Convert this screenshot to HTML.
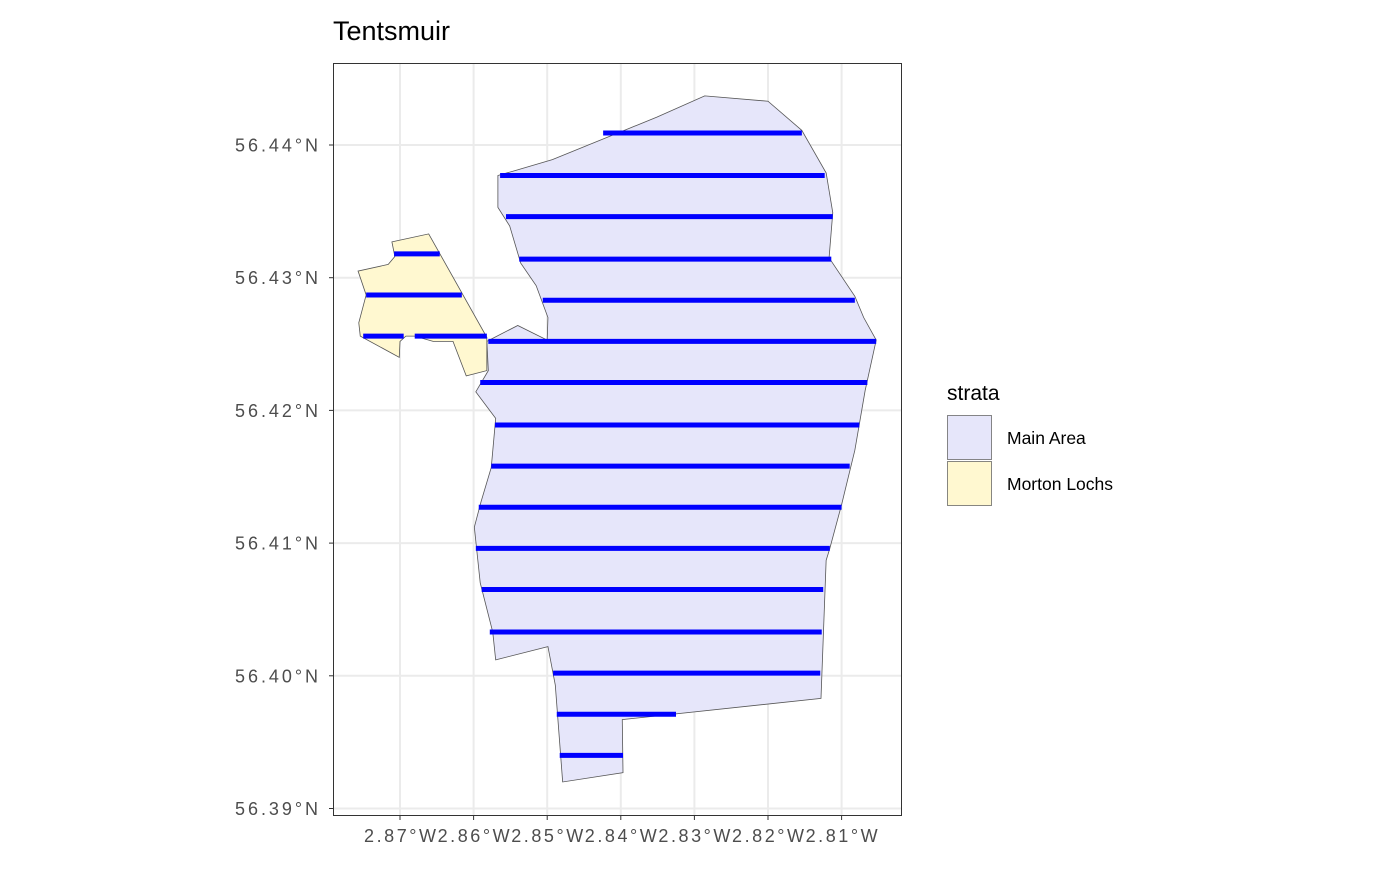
<!DOCTYPE html>
<html><head><meta charset="utf-8"><style>
body{margin:0;background:#fff;font-family:"Liberation Sans",Arial,sans-serif}
svg text{font-family:"Liberation Sans",Arial,sans-serif}
</style></head><body>
<svg id="c" width="1400" height="866" xmlns="http://www.w3.org/2000/svg">
<text x="333" y="40" font-size="27" fill="#000">Tentsmuir</text>
<rect x="333.5" y="63.5" width="568" height="752" fill="#fff"/>
<g id="grid"></g><g id="polys"></g><g id="lines"></g>
<rect x="333.5" y="63.5" width="568" height="752" fill="none" stroke="#333" stroke-width="1"/>
<g id="axes"></g>
<g>
<text x="947" y="400" font-size="21">strata</text>
<rect x="947.5" y="415.5" width="44" height="44" fill="#e6e6fa" stroke="#555" stroke-width="0.7"/>
<text x="1007" y="444" font-size="17.5">Main Area</text>
<rect x="947.5" y="461.5" width="44" height="44" fill="#fff8d0" stroke="#555" stroke-width="0.7"/>
<text x="1007" y="490" font-size="17.5">Morton Lochs</text>
</g>
</svg>
<script>
const lonTicks=[-2.87,-2.86,-2.85,-2.84,-2.83,-2.82,-2.81];
const lonLabels=["2.87°W","2.86°W","2.85°W","2.84°W","2.83°W","2.82°W","2.81°W"];
const latTicks=[56.44,56.43,56.42,56.41,56.40,56.39];
const latLabels=["56.44°N","56.43°N","56.42°N","56.41°N","56.40°N","56.39°N"];
const mainLon=[-2.8567,-2.8542,-2.8493,-2.8351,-2.8286,-2.8200,-2.8154,-2.8121,-2.8112,-2.8117,-2.8082,-2.8070,-2.8053,-2.8068,-2.8082,-2.8100,-2.8116,-2.8121,-2.8128,-2.8398,-2.8397,-2.8479,-2.8489,-2.8499,-2.8570,-2.8574,-2.8591,-2.8599,-2.8590,-2.8576,-2.8570,-2.8597,-2.8580,-2.8582,-2.8540,-2.8500,-2.8499,-2.8515,-2.8536,-2.8551,-2.8567];
const mainLat=[56.4377,56.4381,56.4389,56.4421,56.4437,56.4433,56.4411,56.4379,56.4349,56.4315,56.4286,56.4270,56.4253,56.4215,56.4170,56.4129,56.4096,56.4087,56.3983,56.3967,56.3927,56.3920,56.3993,56.4022,56.4012,56.4033,56.4070,56.4112,56.4131,56.4157,56.4194,56.4214,56.4230,56.4252,56.4264,56.4253,56.4270,56.4294,56.4311,56.4339,56.4353];
const mortonLon=[-2.8711,-2.8661,-2.8582,-2.8582,-2.8610,-2.8628,-2.8655,-2.8680,-2.8692,-2.8700,-2.8701,-2.8754,-2.8756,-2.8746,-2.8757,-2.8716,-2.8707];
const mortonLat=[56.4327,56.4333,56.4255,56.4230,56.4226,56.4252,56.4252,56.4256,56.4256,56.4252,56.4240,56.4256,56.4266,56.4287,56.4305,56.4310,56.4316];
const transLat=[56.4409,56.4377,56.4346,56.4314,56.4283,56.4252,56.4221,56.4189,56.4158,56.4127,56.4096,56.4065,56.4033,56.4002,56.3971,56.3940,56.4318,56.4287,56.4256,56.4256];
const transLon0=[-2.8424,-2.8564,-2.8556,-2.8538,-2.8506,-2.8580,-2.8591,-2.8571,-2.8576,-2.8593,-2.8597,-2.8589,-2.8578,-2.8492,-2.8487,-2.8483,-2.8708,-2.8746,-2.8750,-2.8680];
const transLon1=[-2.8154,-2.8123,-2.8112,-2.8114,-2.8082,-2.8053,-2.8065,-2.8076,-2.8089,-2.8100,-2.8116,-2.8125,-2.8127,-2.8129,-2.8325,-2.8397,-2.8646,-2.8616,-2.8695,-2.8582];
const X=lon=>400+(lon+2.87)*7360;
const Y=lat=>145+(56.44-lat)*13270;
const NS="http://www.w3.org/2000/svg";
function mk(tag,parent,attrs){const e=document.createElementNS(NS,tag);for(const k in attrs)e.setAttribute(k,attrs[k]);document.getElementById(parent).appendChild(e);return e;}
lonTicks.forEach((v,i)=>{
 const l=mk('line','grid',{x1:X(v),x2:X(v),y1:63.5,y2:815.5,stroke:'#ebebeb','stroke-width':2});
 
 
 const t=mk('line','axes',{x1:X(v),x2:X(v),y1:815.5,y2:820,stroke:'#333'});
 
 
 const tx=mk('text','axes',{x:X(v),y:842,'font-size':18,fill:'#4d4d4d','text-anchor':'middle',textLength:72,lengthAdjust:'spacing'});
 tx.textContent=lonLabels[i];
 
 
});
latTicks.forEach((v,i)=>{
 const l=mk('line','grid',{x1:333.5,x2:901.5,y1:Y(v),y2:Y(v),stroke:'#ebebeb','stroke-width':2});
 
 
 const t=mk('line','axes',{x1:329,x2:333.5,y1:Y(v),y2:Y(v),stroke:'#333'});
 
 
 const tx=mk('text','axes',{x:318,y:Y(v)+6.5,'font-size':18,fill:'#4d4d4d','text-anchor':'end',textLength:83,lengthAdjust:'spacing'});
 tx.textContent=latLabels[i];
 
 
});
const pm=mk('polygon','polys',{points:mainLon.map((v,i)=>X(v)+','+Y(mainLat[i])).join(' '),fill:'#e6e6fa',stroke:'#555','stroke-width':0.8});


const pl=mk('polygon','polys',{points:mortonLon.map((v,i)=>X(v)+','+Y(mortonLat[i])).join(' '),fill:'#fff8d0',stroke:'#555','stroke-width':0.8});


transLat.forEach((v,i)=>{
 const l=mk('line','lines',{x1:X(transLon0[i]),x2:X(transLon1[i]),y1:Y(v),y2:Y(v),stroke:'#0000ff','stroke-width':5});
 
 
});
</script>
</body></html>
